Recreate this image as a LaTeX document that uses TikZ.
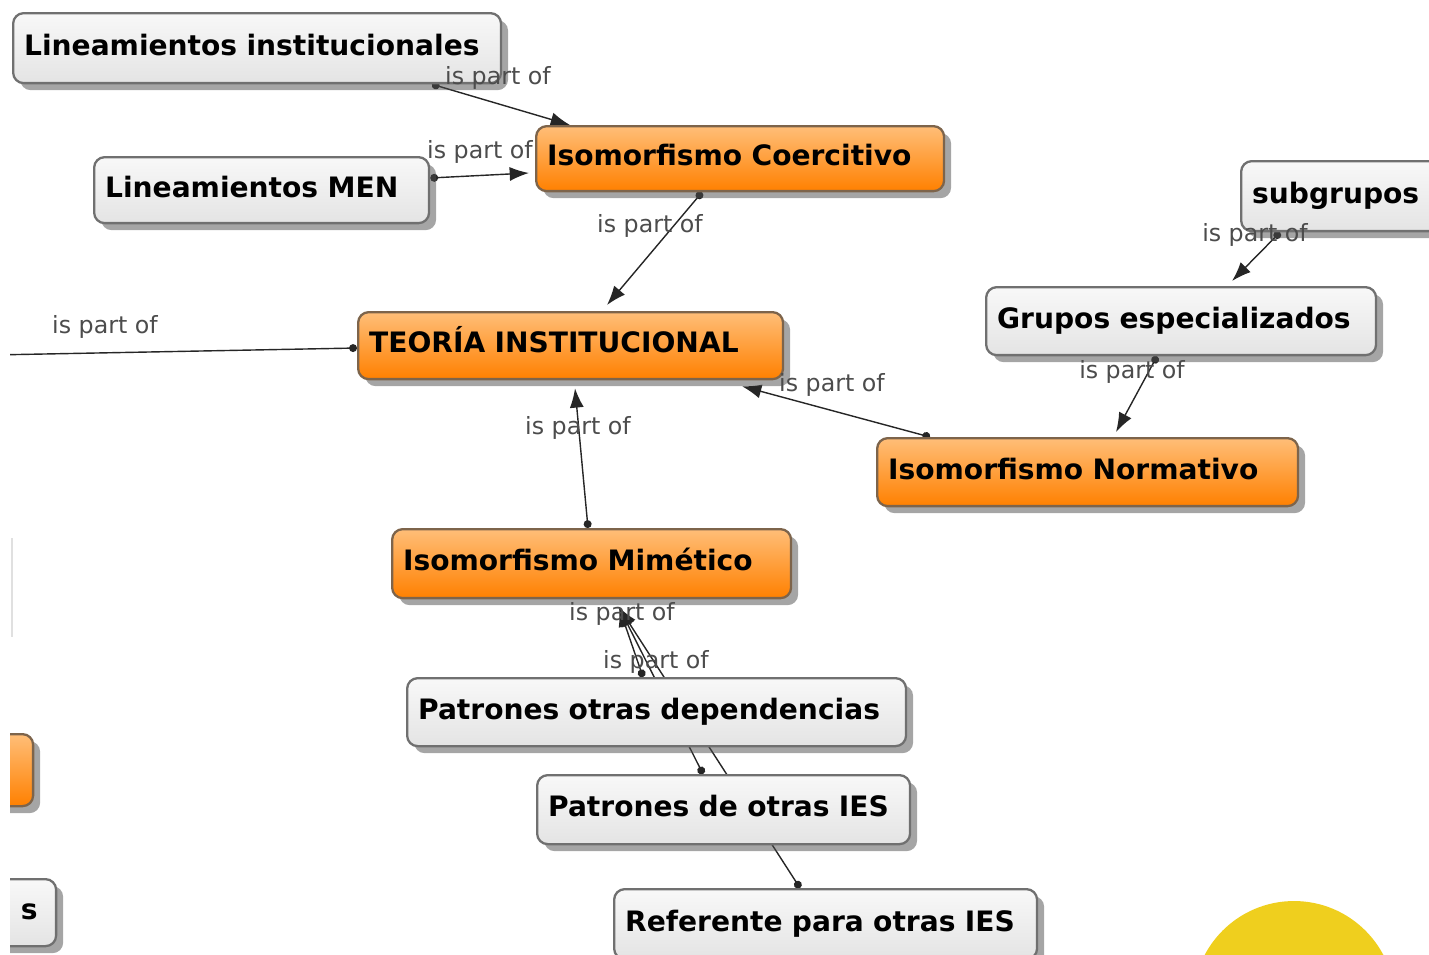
\documentclass[tikz,border=0pt]{standalone}
\usepackage{fontspec}
\setmainfont{DejaVu Sans}
\usepackage{tikz}
\usetikzlibrary{arrows.meta,calc,shadows,backgrounds}
\definecolor{greytop}{RGB}{248,248,248}
\definecolor{greybot}{RGB}{228,228,228}
\definecolor{greyline}{RGB}{112,112,112}
\definecolor{coretop}{RGB}{255,190,120}
\definecolor{corebot}{RGB}{255,128,0}
\definecolor{coreline}{RGB}{125,100,75}
\definecolor{sunyellow}{RGB}{239,207,30}

\begin{document}
\begin{tikzpicture}[x=0.02cm, y=-0.02cm]
\tikzstyle{block} = [rectangle, draw=greyline, line width=1.3pt, top color=greytop, bottom color=greybot, rounded corners=6pt, anchor=north west, align=left, inner ysep=2pt, inner xsep=0.22cm, text height=12pt, text depth=4pt, font=\bfseries\fontsize{16}{19}\selectfont, drop shadow={shadow xshift=4pt, shadow yshift=-4pt, fill=black!70}]
\tikzstyle{core} = [block, draw=coreline, top color=coretop, bottom color=corebot]
\tikzstyle{arrow} = [line width=0.8pt, draw=black!85, {Circle[length=4.5pt]}-{Latex[length=11pt, width=8pt]}]
\tikzstyle{lbl} = [font=\fontsize{13.5}{16}\selectfont, text=black!70, inner sep=0pt]
\tikzstyle{faint} = [draw=black!12, line width=1.5pt]

\useasboundingbox (0,0) rectangle (1429,954);

% concepts
\node [block, text width=9.32cm, minimum height=1.40cm] (lininst) at (12,12) {Lineamientos institucionales};
\node [block, text width=6.26cm, minimum height=1.32cm] (linmen) at (93,156) {Lineamientos MEN};
\node [core, text width=7.72cm, minimum height=1.30cm] (coerc) at (535,125) {Isomorfismo Coercitivo};
\node [block, text width=3.56cm, minimum height=1.40cm] (subgr) at (1240,160) {subgrupos};
\node [block, text width=7.36cm, minimum height=1.36cm] (grupos) at (985,286) {Grupos especializados};
\node [core, text width=8.06cm, minimum height=1.34cm] (teoria) at (357,311) {TEORÍA INSTITUCIONAL};
\node [core, text width=7.98cm, minimum height=1.36cm] (normat) at (876,437) {Isomorfismo Normativo};
\node [core, text width=7.54cm, minimum height=1.38cm] (mimet) at (391,528) {Isomorfismo Mimético};
\node [block, text width=9.54cm, minimum height=1.36cm] (patdep) at (406,677) {Patrones otras dependencias};
\node [block, text width=7.02cm, minimum height=1.38cm] (paties) at (536,774) {Patrones de otras IES};
\node [block, text width=8.02cm, minimum height=1.40cm] (refies) at (613,888) {Referente para otras IES};
\node [core, text width=2.20cm, minimum height=1.44cm] (leftcore) at (-100,733) {};
\node [block, text width=2.36cm, minimum height=1.34cm, align=right, inner xsep=0.37cm] (leftbox) at (-100,878) {s};

% linking phrases
\node [lbl] (la) at (498,78) {is part of};
\node [lbl] (lb) at (480,152) {is part of};
\node [lbl] (lc) at (650,226) {is part of};
\node [lbl] (ld) at (105,327) {is part of};
\node [lbl] (le) at (1255,235) {is part of};
\node [lbl] (lf) at (1132,372) {is part of};
\node [lbl] (lg) at (832,385) {is part of};
\node [lbl] (lh) at (578,428) {is part of};
\node [lbl] (li) at (622,614) {is part of};
\node [lbl] (lj) at (656,662) {is part of};

\coordinate (farleft) at (-60,356);
\coordinate (faintA) at (12,538);
\coordinate (faintB) at (12,637);

\begin{scope}[on background layer]
\draw [arrow] ($(lininst.south west)+(420,0)$) -- ($(coerc.north west)+(35,0)$);
\draw [arrow] ($(linmen.north east)+(0,22)$) -- ($(coerc.north west)+(-6,48)$);
\draw [arrow] ($(coerc.south west)+(167,0)$) -- ($(teoria.north west)+(250,-6)$);
\draw [arrow] ($(teoria.north west)+(0,37)$) -- (farleft);
\draw [arrow] ($(subgr.south west)+(40,0)$) -- ($(grupos.north west)+(247,-5)$);
\draw [arrow] ($(grupos.south west)+(172,0)$) -- ($(normat.north west)+(240,-5)$);
\draw [arrow] ($(normat.north west)+(54,0)$) -- ($(teoria.south west)+(385,6)$);
\draw [arrow] ($(mimet.north west)+(197,0)$) -- ($(teoria.south west)+(218,8)$);
\draw [arrow] ($(patdep.north west)+(237,0)$) -- ($(mimet.south west)+(228,8)$);
\draw [arrow] ($(paties.north west)+(167,0)$) -- ($(mimet.south west)+(228,8)$);
\draw [arrow] ($(refies.north west)+(187,0)$) -- ($(mimet.south west)+(228,8)$);
\end{scope}

\fill [sunyellow] (1294,1002) circle [radius=2.02cm];
% white strip at the left edge
\fill [white] (0,0) rectangle (10,954);
\draw [faint] (faintA) -- (faintB);
\end{tikzpicture}
\end{document}
